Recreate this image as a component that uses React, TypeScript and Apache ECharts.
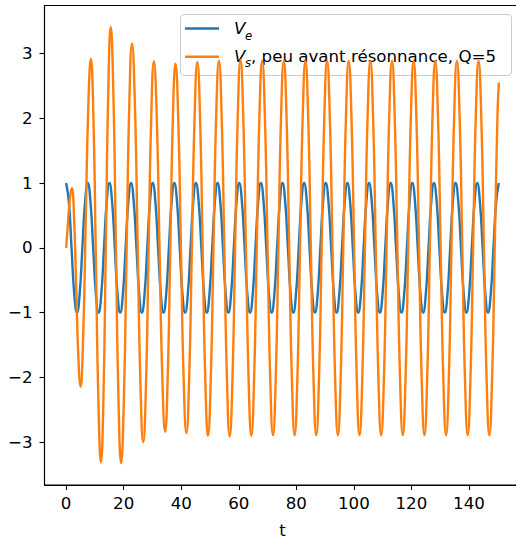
import React, { useEffect, useRef } from 'react';
import * as echarts from 'echarts';

// V_e : driving signal (samples every 1/8 period)
const tVe = [
  0, 0.94, 1.88, 2.82, 3.76, 4.7, 5.64, 6.58,
  7.52, 8.46, 9.4, 10.34, 11.28, 12.22, 13.16, 14.1,
  15.04, 15.98, 16.92, 17.86, 18.8, 19.74, 20.68, 21.62,
  22.56, 23.5, 24.44, 25.38, 26.32, 27.26, 28.2, 29.14,
  30.08, 31.02, 31.96, 32.9, 33.84, 34.78, 35.72, 36.66,
  37.6, 38.54, 39.48, 40.42, 41.36, 42.3, 43.24, 44.18,
  45.12, 46.06, 47, 47.94, 48.88, 49.82, 50.76, 51.7,
  52.64, 53.58, 54.52, 55.46, 56.4, 57.34, 58.28, 59.22,
  60.16, 61.1, 62.04, 62.98, 63.92, 64.86, 65.8, 66.74,
  67.68, 68.62, 69.56, 70.5, 71.44, 72.38, 73.32, 74.26,
  75.2, 76.14, 77.08, 78.02, 78.96, 79.9, 80.84, 81.78,
  82.72, 83.66, 84.6, 85.54, 86.48, 87.42, 88.36, 89.3,
  90.24, 91.18, 92.12, 93.06, 94, 94.94, 95.88, 96.82,
  97.76, 98.7, 99.64, 100.58, 101.52, 102.46, 103.4, 104.34,
  105.28, 106.22, 107.16, 108.1, 109.04, 109.98, 110.92, 111.86,
  112.8, 113.74, 114.68, 115.62, 116.56, 117.5, 118.44, 119.38,
  120.32, 121.26, 122.2, 123.14, 124.08, 125.02, 125.96, 126.9,
  127.84, 128.78, 129.72, 130.66, 131.6, 132.54, 133.48, 134.42,
  135.36, 136.3, 137.24, 138.18, 139.12, 140.06, 141, 141.94,
  142.88, 143.82, 144.76, 145.7, 146.64, 147.58, 148.52, 149.46,
  150.4,
];
const ve = [
  1, 0.71, 0, -0.71, -1, -0.71, 0, 0.71,
  1, 0.71, 0, -0.71, -1, -0.71, 0, 0.71,
  1, 0.71, 0, -0.71, -1, -0.71, 0, 0.71,
  1, 0.71, 0, -0.71, -1, -0.71, 0, 0.71,
  1, 0.71, 0, -0.71, -1, -0.71, 0, 0.71,
  1, 0.71, 0, -0.71, -1, -0.71, 0, 0.71,
  1, 0.71, 0, -0.71, -1, -0.71, 0, 0.71,
  1, 0.71, 0, -0.71, -1, -0.71, 0, 0.71,
  1, 0.71, 0, -0.71, -1, -0.71, 0, 0.71,
  1, 0.71, 0, -0.71, -1, -0.71, 0, 0.71,
  1, 0.71, 0, -0.71, -1, -0.71, 0, 0.71,
  1, 0.71, 0, -0.71, -1, -0.71, 0, 0.71,
  1, 0.71, 0, -0.71, -1, -0.71, 0, 0.71,
  1, 0.71, 0, -0.71, -1, -0.71, 0, 0.71,
  1, 0.71, 0, -0.71, -1, -0.71, 0, 0.71,
  1, 0.71, 0, -0.71, -1, -0.71, 0, 0.71,
  1, 0.71, 0, -0.71, -1, -0.71, 0, 0.71,
  1, 0.71, 0, -0.71, -1, -0.71, 0, 0.71,
  1, 0.71, 0, -0.71, -1, -0.71, 0, 0.71,
  1, 0.71, 0, -0.71, -1, -0.71, 0, 0.71,
  1,
];

// V_s : response (extrema and points between them)
const tVs = [
  0, 0.5, 1.0, 1.5, 2.0,
  2.75, 3.5, 4.25, 5.0,
  5.9, 6.8, 7.7, 8.6,
  9.48, 10.35, 11.23, 12.1,
  12.95, 13.8, 14.65, 15.5,
  16.4, 17.3, 18.2, 19.1,
  20.05, 21.0, 21.95, 22.9,
  23.88, 24.85, 25.83, 26.8,
  27.73, 28.65, 29.58, 30.5,
  31.48, 32.45, 33.43, 34.4,
  35.3, 36.2, 37.1, 38.0,
  38.95, 39.9, 40.85, 41.8,
  42.75, 43.7, 44.65, 45.6,
  46.53, 47.45, 48.38, 49.3,
  50.25, 51.2, 52.15, 53.1,
  54.04, 54.98, 55.91, 56.85,
  57.79, 58.73, 59.66, 60.6,
  61.54, 62.49, 63.43, 64.37,
  65.31, 66.25, 67.19, 68.13,
  69.07, 70.01, 70.95, 71.89, 72.83, 73.77, 74.71, 75.65,
  76.59, 77.53, 78.47, 79.41, 80.35, 81.29, 82.23, 83.17,
  84.11, 85.05, 85.99, 86.93, 87.87, 88.81, 89.75, 90.69,
  91.63, 92.57, 93.51, 94.45, 95.39, 96.33, 97.27, 98.21,
  99.15, 100.09, 101.03, 101.97, 102.91, 103.85, 104.79, 105.73,
  106.67, 107.61, 108.55, 109.49, 110.43, 111.37, 112.31, 113.25,
  114.19, 115.13, 116.07, 117.01, 117.95, 118.89, 119.83, 120.77,
  121.71, 122.65, 123.59, 124.53, 125.47, 126.41, 127.35, 128.29,
  129.23, 130.17, 131.11, 132.05, 132.99, 133.93, 134.87, 135.81,
  136.75, 137.69, 138.63, 139.57, 140.51, 141.45, 142.39, 143.33,
  144.27, 145.21, 146.15, 147.09, 148.03, 148.97, 149.91, 150.4,
];
const vs = [
  0, 0.3, 0.6, 0.83, 0.92,
  0.47, -0.61, -1.69, -2.14,
  -1.4, 0.39, 2.18, 2.92,
  2.01, -0.2, -2.4, -3.31,
  -2.33, 0.05, 2.42, 3.41,
  2.42, 0.04, -2.34, -3.32,
  -2.37, -0.09, 2.2, 3.15,
  2.25, 0.08, -2.1, -3.0,
  -2.14, -0.06, 2.02, 2.88,
  2.04, 0.02, -2.0, -2.84,
  -2.0, 0, 2.01, 2.84,
  2.01, -0.01, -2.03, -2.86,
  -2.02, 0, 2.03, 2.87,
  2.03, -0.02, -2.05, -2.9,
  -2.05, 0, 2.04, 2.89,
  2.04, -0.01, -2.05, -2.91,
  -2.05, 0, 2.05, 2.9,
  2.05, 0, -2.05, -2.9,
  -2.05, 0, 2.04, 2.89,
  2.04, 0, -2.04, -2.89, -2.04, 0, 2.04, 2.89,
  2.04, 0, -2.04, -2.89, -2.04, 0, 2.04, 2.89,
  2.04, 0, -2.04, -2.89, -2.04, 0, 2.04, 2.89,
  2.04, 0, -2.04, -2.89, -2.04, 0, 2.04, 2.89,
  2.04, 0, -2.04, -2.89, -2.04, 0, 2.04, 2.89,
  2.04, 0, -2.04, -2.89, -2.04, 0, 2.04, 2.89,
  2.04, 0, -2.04, -2.89, -2.04, 0, 2.04, 2.89,
  2.04, 0, -2.04, -2.89, -2.04, 0, 2.04, 2.89,
  2.04, 0, -2.04, -2.89, -2.04, 0, 2.04, 2.89,
  2.04, 0, -2.04, -2.89, -2.04, 0, 2.04, 2.89,
  2.04, 0, -2.04, -2.89, -2.04, 0, 2.04, 2.55,
];

const xTicks = [0, 20, 40, 60, 80, 100, 120, 140];
const yTicks = [-3, -2, -1, 0, 1, 2, 3];
const xName = 't';
const seriesNames = ['V_e', 'V_s, peu avant résonnance, Q=5'];
const legendRest = ', peu avant résonnance, Q=5';

const FONT = 'DejaVu Sans';
const FS = 16.67;
const BLUE = '#1f77b4';
const ORANGE = '#ff7f0e';
const LW = 2.4;

export default function App() {
  const ref = useRef<HTMLDivElement>(null);
  useEffect(() => {
    if (!ref.current) return;
    const chart = echarts.init(ref.current, undefined, { renderer: 'svg' });
    const veData = tVe.map((t, i) => [t, ve[i]]);
    const vsData = tVs.map((t, i) => [t, vs[i]]);
    const fmt = (v: number) => (v < 0 ? '\u2212' + String(-v) : String(v));
    const axisCommon = {
      type: 'value',
      axisLine: { show: true, onZero: false, lineStyle: { color: '#000', width: 1.1 } },
      splitLine: { show: false },
    };
    chart.setOption({
      animation: false,
      backgroundColor: '#fff',
      grid: {
        left: 44.5, top: 5.5, width: 476, height: 479.5,
        show: true, borderColor: '#000', borderWidth: 1.1, backgroundColor: 'transparent',
      },
      xAxis: {
        ...axisCommon,
        min: -7.52, max: 157.92,
        axisTick: { show: true, customValues: xTicks, length: 5, lineStyle: { color: '#000', width: 1.1 } },
        axisLabel: { customValues: xTicks, color: '#000', fontSize: FS, fontFamily: FONT, margin: 10, formatter: fmt },
        name: xName, nameLocation: 'middle', nameGap: 37,
        nameTextStyle: { color: '#000', fontSize: FS, fontFamily: FONT },
      },
      yAxis: {
        ...axisCommon,
        min: -3.66, max: 3.74,
        axisTick: { show: true, customValues: yTicks, length: 5, lineStyle: { color: '#000', width: 1.1 } },
        axisLabel: { customValues: yTicks, color: '#000', fontSize: FS, fontFamily: FONT, margin: 12, formatter: fmt },
      },
      series: [
        {
          name: seriesNames[0], type: 'line', data: veData, showSymbol: false, smooth: 0.5,
          lineStyle: { color: BLUE, width: LW }, itemStyle: { color: BLUE },
        },
        {
          name: seriesNames[1], type: 'line', data: vsData, showSymbol: false, smooth: 0.5,
          lineStyle: { color: ORANGE, width: LW }, itemStyle: { color: ORANGE },
        },
      ],
      graphic: [
        {
          type: 'group', z: 100,
          children: [
            {
              type: 'rect', shape: { x: 180.5, y: 14.5, width: 331, height: 61, r: 3.5 },
              style: { fill: 'rgba(255,255,255,0.8)', stroke: '#cccccc', lineWidth: 1 },
            },
            { type: 'line', shape: { x1: 185, y1: 28.5, x2: 219, y2: 28.5 }, style: { stroke: BLUE, lineWidth: LW } },
            { type: 'line', shape: { x1: 185, y1: 56.7, x2: 219, y2: 56.7 }, style: { stroke: ORANGE, lineWidth: LW } },
            { type: 'text', x: 234, y: 28, style: { text: 'V', fontFamily: FONT, fontStyle: 'italic', fontSize: FS, fill: '#000', verticalAlign: 'middle' } },
            { type: 'text', x: 245, y: 35.9, style: { text: 'e', fontFamily: FONT, fontStyle: 'italic', fontSize: 11.7, fill: '#000', verticalAlign: 'middle' } },
            { type: 'text', x: 234, y: 56.3, style: { text: 'V', fontFamily: FONT, fontStyle: 'italic', fontSize: FS, fill: '#000', verticalAlign: 'middle' } },
            { type: 'text', x: 245, y: 62.6, style: { text: 's', fontFamily: FONT, fontStyle: 'italic', fontSize: 11.7, fill: '#000', verticalAlign: 'middle' } },
            { type: 'text', x: 251, y: 56.5, style: { text: legendRest, fontFamily: FONT, fontSize: FS, fill: '#000', verticalAlign: 'middle' } },
          ],
        },
      ],
    });
    return () => chart.dispose();
  }, []);
  return (
    <div style={{ position: 'absolute', left: 0, top: 0, width: 516, height: 544, overflow: 'hidden', background: '#fff' }}>
      <div ref={ref} style={{ width: 530, height: 544 }} />
    </div>
  );
}
